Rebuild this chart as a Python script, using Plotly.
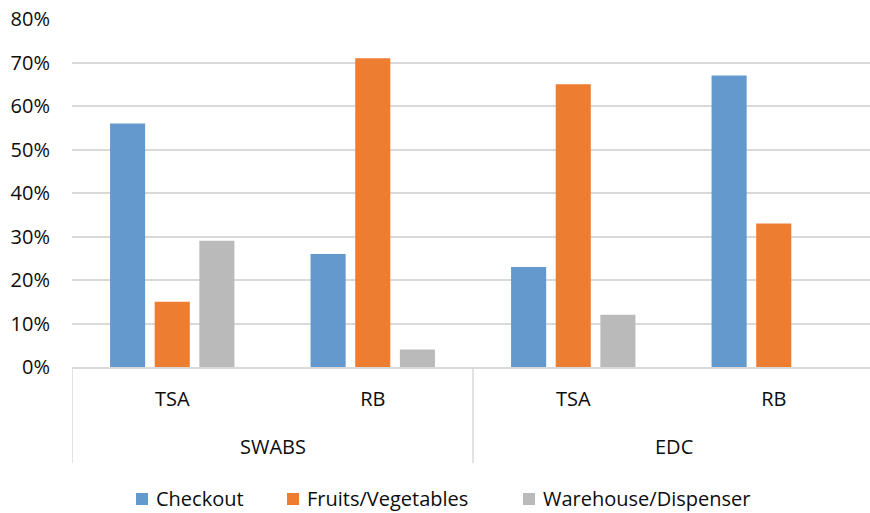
import plotly.graph_objects as go

# Category structure: outer group and inner sub-category for each slot
groups = ["SWABS", "SWABS", "EDC", "EDC"]
subcats = ["TSA", "RB", "TSA", "RB"]

# Share of samples per location (%)
checkout = [56, 26, 23, 67]
fruits_veg = [15, 71, 65, 33]
warehouse = [29, 4, 12, 0]

series_names = ["Checkout", "Fruits/Vegetables", "Warehouse/Dispenser"]
series_values = [checkout, fruits_veg, warehouse]
series_colors = ["#6399CD", "#ED7D31", "#BABABA"]

y_ticks = [0, 10, 20, 30, 40, 50, 60, 70, 80]

FONT = "Open Sans, DejaVu Sans, sans-serif"
TEXT = "#0D0D0D"
GRID = "#D9D9D9"

pos = list(range(len(subcats)))

fig = go.Figure()
for name, vals, col in zip(series_names, series_values, series_colors):
    fig.add_trace(go.Bar(
        x=pos, y=vals, name=name,
        marker=dict(color=col, line=dict(width=0)),
        hoverinfo="skip", showlegend=False,
    ))

# Plot area geometry (px)
W, H = 870, 513
ML, MR, MT, MB = 72, 0, 19, 146
plot_w = W - ML - MR
plot_h = H - MT - MB

def paper_y(px_below_axis):
    return -px_below_axis / plot_h

def paper_x(px):
    return (px - ML) / plot_w

# Group separators running from the axis down through both label rows
group_bounds = [-0.5]
for i in range(1, len(groups)):
    if groups[i] != groups[i - 1]:
        group_bounds.append(i - 0.5)
group_bounds.append(len(groups) - 0.5)

shapes = []
for xb in group_bounds:
    shapes.append(dict(type="line", xref="x", yref="paper",
                       x0=xb, x1=xb, y0=0, y1=paper_y(96),
                       line=dict(color=GRID, width=1.5)))

# Outer group labels centred under their sub-categories
annotations = []
seen = []
for g in groups:
    if g not in seen:
        seen.append(g)
for g in seen:
    idx = [i for i, gg in enumerate(groups) if gg == g]
    cx = (idx[0] + idx[-1]) / 2
    annotations.append(dict(x=cx, xref="x", y=paper_y(79), yref="paper",
                            text=g, showarrow=False, xanchor="center",
                            yanchor="middle",
                            font=dict(family=FONT, size=20, color=TEXT)))

# Legend row below the category labels: colour swatch followed by its name
legend_swatch_left = [136, 287, 523]
SW = 12
legend_cy = 131  # px below the axis line
for left, name, col in zip(legend_swatch_left, series_names, series_colors):
    shapes.append(dict(type="rect", xref="paper", yref="paper",
                       x0=paper_x(left), x1=paper_x(left + SW),
                       y0=paper_y(legend_cy - SW / 2 + 1),
                       y1=paper_y(legend_cy + SW / 2 + 1),
                       fillcolor=col, line=dict(width=0)))
    annotations.append(dict(x=paper_x(left + SW + 7), xref="paper",
                            y=paper_y(legend_cy), yref="paper",
                            text=name, showarrow=False, xanchor="left",
                            yanchor="middle", borderpad=0,
                            font=dict(family=FONT, size=20, color=TEXT)))

fig.update_layout(
    width=W, height=H,
    margin=dict(l=ML, r=MR, t=MT, b=MB, autoexpand=False),
    paper_bgcolor="white", plot_bgcolor="white",
    barmode="group", bargap=0.332, bargroupgap=0.214,
    font=dict(family=FONT, size=20, color=TEXT),
    showlegend=False,
    shapes=shapes,
    annotations=annotations,
    xaxis=dict(
        range=[-0.5, 3.48], automargin=False,
        tickmode="array", tickvals=pos, ticktext=subcats,
        ticks="", showgrid=False, zeroline=False,
        showline=True, linecolor=GRID, linewidth=1.5,
        ticklabelstandoff=13,
        tickfont=dict(family=FONT, size=20, color=TEXT),
    ),
    yaxis=dict(
        range=[0, 80], automargin=False,
        tickmode="array", tickvals=y_ticks,
        ticktext=[f"{v}%" for v in y_ticks],
        ticks="", showgrid=True, gridcolor=GRID, gridwidth=1.5,
        zeroline=False, showline=False,
        ticklabelstandoff=21,
        tickfont=dict(family=FONT, size=20, color=TEXT),
    ),
)

fig.write_html("out.html")
